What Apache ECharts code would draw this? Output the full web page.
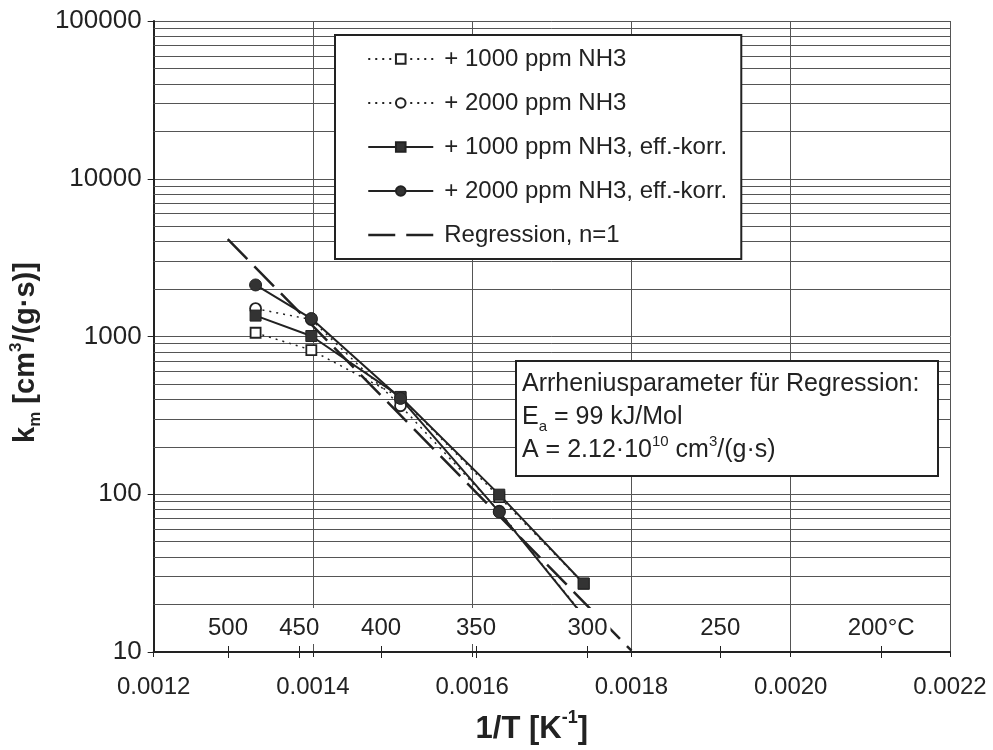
<!DOCTYPE html>
<html><head><meta charset="utf-8">
<script src="https://cdn.jsdelivr.net/npm/echarts@6/dist/echarts.min.js"></script>
<style>html,body{margin:0;padding:0;background:#fff}#c{width:993px;height:750px}</style>
</head><body><div id="c"></div>
<script>
// ---- data ----
const invT      = [0.001328, 0.001398, 0.00151, 0.001634, 0.00174];   // 1/T [1/K]
const k1000     = [1056, 820, 410, 96, 27];
const k2000     = [1502, 1280, 364, 78, 17];
const k1000eff  = [1357, 1007, 414, 99.4, 27.2];
const k2000eff  = [2122, 1300, 405, 77.1, 16.8];
const regX      = [0.001293, 0.0018];
const regK      = [4140, 10.2];
const tempC     = [500, 450, 400, 350, 300, 250, 200];             // secondary temperature ticks
const yMinorGrid = [20,30,40,50,60,70,80,90,200,300,400,500,600,700,800,900,
                    2000,3000,4000,5000,6000,7000,8000,9000,20000,30000,40000,50000,60000,70000,80000,90000];
const names = ['+ 1000 ppm NH3', '+ 2000 ppm NH3', '+ 1000 ppm NH3, eff.-korr.', '+ 2000 ppm NH3, eff.-korr.', 'Regression, n=1'];

const FF = 'Liberation Sans, Arial, sans-serif';
const INK = '#222';
const GRID = '#555';
const pairs = (xs, ys) => xs.map((x, i) => [x, ys[i]]);
const tempVals = tempC.map(t => 1 / (t + 273.15));

const chart = echarts.init(document.getElementById('c'), null, {renderer: 'canvas'});
const baseX = {type: 'value', min: 0.0012, max: 0.0022, interval: 0.0002, gridIndex: 0};

chart.setOption({
  animation: false,
  backgroundColor: '#fff',
  textStyle: {fontFamily: FF},
  grid: {left: 149, top: 21, width: 801, height: 639, containLabel: false},
  xAxis: [
    Object.assign({}, baseX, {
      position: 'bottom',
      axisLine: {show: true, lineStyle: {color: INK, width: 2}},
      axisTick: {show: true, inside: false, length: 5, lineStyle: {color: INK, width: 1}},
      axisLabel: {fontSize: 24, color: INK, fontFamily: FF, margin: 23, formatter: v => v.toFixed(4)},
      splitLine: {show: true, lineStyle: {color: GRID, width: 1}},
      name: '{b|1/T [K}{s|-1}{b|]}',
      nameLocation: 'middle', nameGap: 57,
      nameTextStyle: {padding: [0, 40, 0, 0], rich: {
        b: {fontSize: 31, fontWeight: 'bold', color: INK, fontFamily: FF, lineHeight: 36, verticalAlign: 'bottom'},
        s: {fontSize: 18, fontWeight: 'bold', color: INK, fontFamily: FF, lineHeight: 36, verticalAlign: 'top'}
      }}
    }),
    Object.assign({}, baseX, {
      position: 'bottom', z: 10,
      axisLine: {show: false},
      splitLine: {show: false},
      axisTick: {show: true, inside: true, length: 6, customValues: tempVals, lineStyle: {color: INK, width: 1}},
      axisLabel: {show: true, inside: true, customValues: tempVals, fontSize: 24, color: INK, fontFamily: FF,
        margin: 8, lineHeight: 26, backgroundColor: '#fff', padding: [7, 3, 3, 3],
        formatter: v => { const t = Math.round(1 / v - 273.15); return t === 200 ? t + '°C' : String(t); }}
    }),
    Object.assign({}, baseX, {
      position: 'bottom',
      axisLine: {show: false},
      splitLine: {show: false},
      axisTick: {show: true, inside: false, length: 6, customValues: tempVals, lineStyle: {color: INK, width: 1}},
      axisLabel: {show: false}
    })
  ],
  yAxis: {
    type: 'log', logBase: 10, min: 10, max: 100000,
    axisLine: {show: true, lineStyle: {color: INK, width: 2}},
    axisTick: {show: true, inside: false, length: 6, lineStyle: {color: INK, width: 1}},
    axisLabel: {fontSize: 26, color: INK, fontFamily: FF, margin: 12, formatter: v => String(Math.round(v))},
    splitLine: {show: true, lineStyle: {color: GRID, width: 1}},
    name: '{b|k}{sub|m}{b| [cm}{sup|3}{b|/(g·s)]}',
    nameLocation: 'middle', nameGap: 100, nameRotate: 90,
    nameTextStyle: {padding: [0, 32, 0, 0], rich: {
      b: {fontSize: 29, fontWeight: 'bold', color: INK, fontFamily: FF, lineHeight: 36},
      sub: {fontSize: 17, fontWeight: 'bold', color: INK, fontFamily: FF, lineHeight: 22, verticalAlign: 'bottom'},
      sup: {fontSize: 17, fontWeight: 'bold', color: INK, fontFamily: FF, lineHeight: 22, verticalAlign: 'top'}
    }}
  },
  legend: {
    orient: 'vertical', left: 335, top: 35,
    itemWidth: 65, itemHeight: 12, itemGap: 16,
    padding: [10, 14, 10, 32],
    borderColor: INK, borderWidth: 2, backgroundColor: '#fff',
    textStyle: {fontSize: 24, color: INK, fontFamily: FF, lineHeight: 28, padding: [0, 0, 0, 6]},
    data: [names[0], names[1], names[2], names[3],
           {name: names[4], itemStyle: {opacity: 0}, lineStyle: {type: [27, 11], width: 2.5}}],
    selectedMode: false
  },
  graphic: [
    {type: 'rect', z: 100, shape: {x: 516, y: 361, width: 422, height: 115},
     style: {fill: '#fff', stroke: INK, lineWidth: 2}},
    {type: 'text', z: 101, x: 522, y: 368, style: {
      text: '{n|Arrheniusparameter für Regression:}\n{n|E}{sub|a}{n| = 99 kJ/Mol}\n{n|A = 2.12·10}{sup|10}{n| cm}{sup|3}{n|/(g·s)}',
      rich: {
        n: {fontSize: 25, fill: INK, fontFamily: FF, lineHeight: 33},
        sub: {fontSize: 15, fill: INK, fontFamily: FF, lineHeight: 22, verticalAlign: 'bottom'},
        sup: {fontSize: 15, fill: INK, fontFamily: FF, lineHeight: 22, verticalAlign: 'top'}
      }
    }}
  ],
  series: [
    {type: 'line', name: '_grid', data: [], silent: true, z: 1,
     markLine: {silent: true, z: 1, symbol: ['none', 'none'], label: {show: false},
       lineStyle: {color: GRID, width: 1, type: 'solid'}, emphasis: {disabled: true},
       data: yMinorGrid.map(v => ({yAxis: v}))}},
    {type: 'line', name: names[0], data: pairs(invT, k1000), symbol: 'rect', symbolSize: 10,
     lineStyle: {color: INK, width: 1.5, type: [2, 5]},
     itemStyle: {color: '#fff', borderColor: INK, borderWidth: 1.8}},
    {type: 'line', name: names[1], data: pairs(invT, k2000), symbol: 'circle', symbolSize: 11,
     lineStyle: {color: INK, width: 1.5, type: [2, 5]},
     itemStyle: {color: '#fff', borderColor: INK, borderWidth: 1.8}},
    {type: 'line', name: names[2], data: pairs(invT, k1000eff), symbol: 'rect', symbolSize: 11,
     lineStyle: {color: INK, width: 2},
     itemStyle: {color: '#333', borderColor: INK, borderWidth: 1}},
    {type: 'line', name: names[3], data: pairs(invT, k2000eff), symbol: 'circle', symbolSize: 12,
     lineStyle: {color: INK, width: 2},
     itemStyle: {color: '#333', borderColor: INK, borderWidth: 1}},
    {type: 'line', name: names[4], data: pairs(regX, regK), symbol: 'none',
     lineStyle: {color: INK, width: 2.5, type: [28, 10]},
     itemStyle: {color: INK}}
  ]
});
</script>
</body></html>
